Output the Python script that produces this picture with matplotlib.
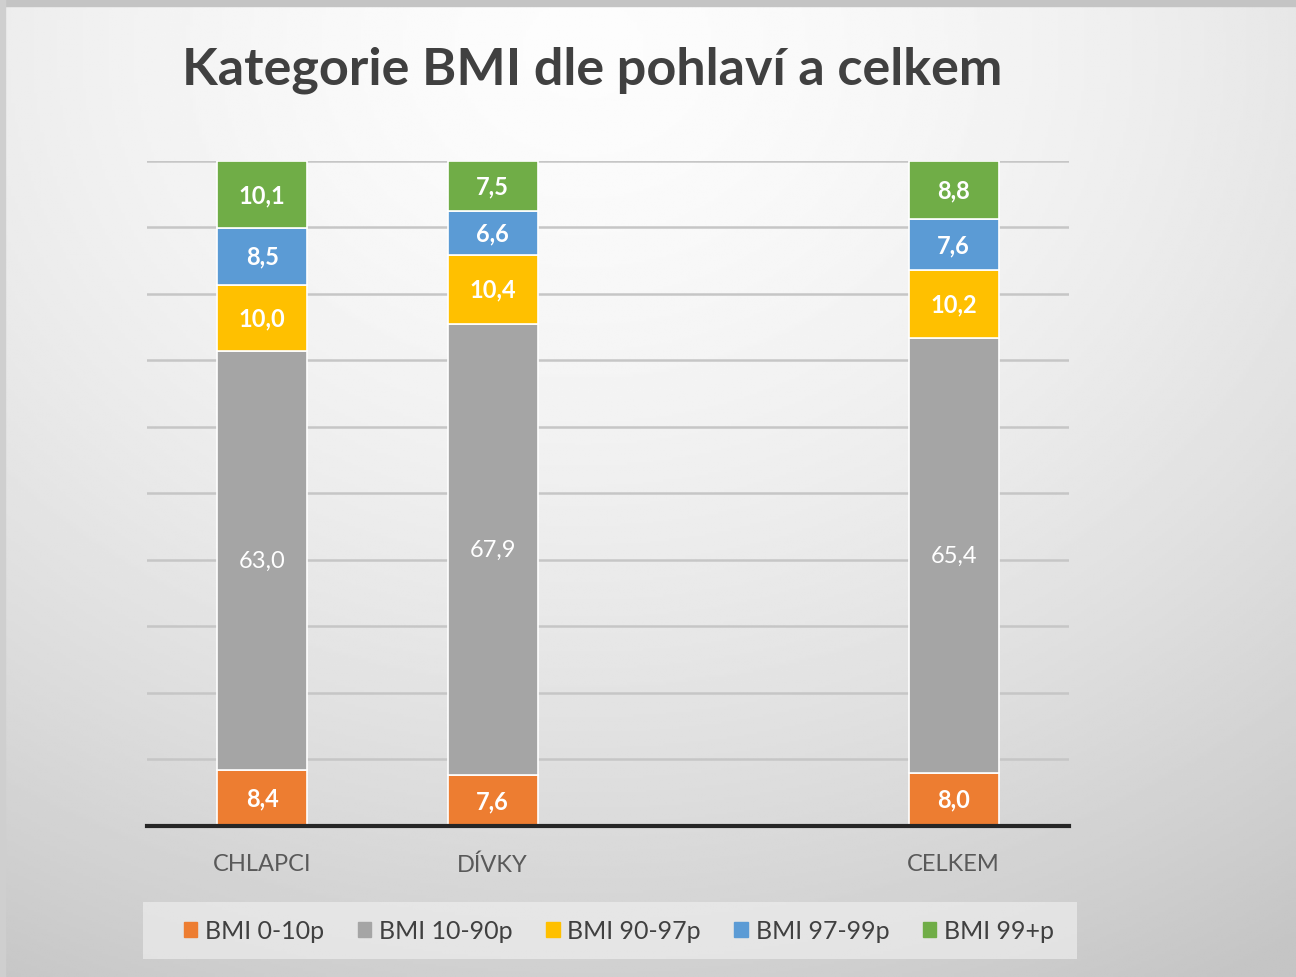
import numpy as np
import matplotlib.pyplot as plt
import matplotlib as mpl

mpl.rcParams['font.family'] = ['Lato', 'DejaVu Sans']

categories = ['CHLAPCI', 'DÍVKY', '', 'CELKEM']
series = ['BMI 0-10p', 'BMI 10-90p', 'BMI 90-97p', 'BMI 97-99p', 'BMI 99+p']
values = {
    'BMI 0-10p':  [8.4, 7.6, np.nan, 8.0],
    'BMI 10-90p': [63.0, 67.9, np.nan, 65.4],
    'BMI 90-97p': [10.0, 10.4, np.nan, 10.2],
    'BMI 97-99p': [8.5, 6.6, np.nan, 7.6],
    'BMI 99+p':   [10.1, 7.5, np.nan, 8.8],
}
colors = ['#ED7D31', '#A5A5A5', '#FFC000', '#5B9BD5', '#70AD47']

fig = plt.figure(figsize=(12.96, 9.78), dpi=100)

# background gradient
bg = fig.add_axes([0, 0, 1, 1], zorder=-10)
yy, xx = np.mgrid[0:1:400j, 0:1:400j]
r = np.sqrt(((xx - 0.45) / 1.0) ** 2 + ((yy - 0.05) / 1.1) ** 2)
shade = 0.99 - 0.22 * np.clip(r, 0, 1) ** 1.6
bg.imshow(shade, cmap='gray', vmin=0, vmax=1, extent=[0, 1, 0, 1], aspect='auto', origin='upper')
bg.set_xlim(0, 1)
bg.set_ylim(0, 1)
bg.axis('off')
# thin frame at top/left of the slide
bg.add_patch(plt.Rectangle((0, 0.993), 1, 0.007, color='#c4c4c4', transform=bg.transAxes))
bg.add_patch(plt.Rectangle((0, 0), 0.004, 1, color='#cfcfcf', transform=bg.transAxes))
# legend backdrop
bg.add_patch(plt.Rectangle((143 / 1296, 18 / 978), 934 / 1296, 57 / 978,
                           color='#f2f2f2', alpha=0.6, lw=0, transform=bg.transAxes))

fig.text(0.457, 0.928, 'Kategorie BMI dle pohlaví a celkem', ha='center', va='center',
         fontsize=37.5, fontweight='bold', color='#404040')

ax = fig.add_axes([0.1134, 0.1544, 0.7114, 0.68])
ax.patch.set_alpha(0)
x = np.arange(len(categories))
bottom = np.zeros(len(categories))
for i, s in enumerate(series):
    v = np.array(values[s])
    ax.bar(x, np.nan_to_num(v), 0.39, bottom=bottom, color=colors[i],
           edgecolor='white', linewidth=1.2, zorder=3)
    for xi, (b, h) in enumerate(zip(bottom, v)):
        if np.isnan(h):
            continue
        lab = f'{h:.1f}'.replace('.', ',')
        ax.text(xi, b + h / 2, lab, ha='center', va='center', color='white',
                fontsize=17, fontweight='normal' if i == 1 else 'bold', zorder=4)
    bottom += np.nan_to_num(v)

ax.set_xlim(-0.5, 3.5)
ax.set_ylim(0, 100)
ax.set_yticks(np.arange(0, 101, 10))
ax.yaxis.grid(True, color='#c6c6c6', linewidth=1.8, zorder=0)
ax.tick_params(axis='y', left=False, labelleft=False)
ax.tick_params(axis='x', bottom=False, pad=16, labelsize=17, labelcolor='#595959')
ax.set_xticks(x)
ax.set_xticklabels(categories)
for sp in ['top', 'right', 'left']:
    ax.spines[sp].set_visible(False)
ax.spines['bottom'].set_color('#262626')
ax.spines['bottom'].set_linewidth(3)
ax.spines['bottom'].set_zorder(5)

handles = [plt.Rectangle((0, 0), 1, 1, color=c) for c in colors]
leg = fig.legend(handles, series, loc='center', bbox_to_anchor=(0.4775, 0.0475), ncol=5,
                 frameon=False, fontsize=18, handlelength=0.55, handleheight=0.55,
                 handletextpad=0.3, columnspacing=1.34)
for t in leg.get_texts():
    t.set_color('#404040')

fig.savefig('out.png', dpi=100)
